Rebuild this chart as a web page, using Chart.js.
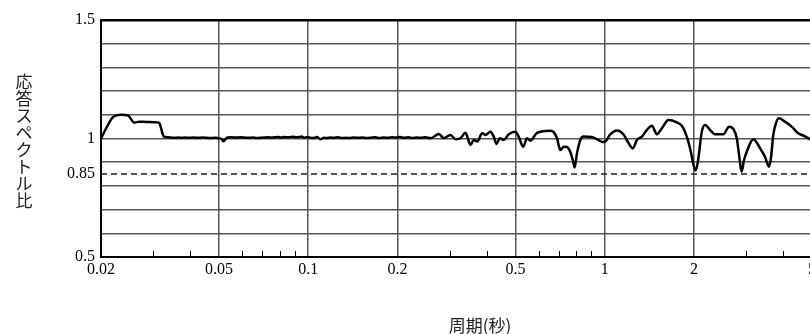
<!DOCTYPE html>
<html>
<head>
<meta charset="utf-8">
<script src="https://cdn.jsdelivr.net/npm/chart.js@4.4.1/dist/chart.umd.min.js"></script>
<style>
  html, body { margin: 0; padding: 0; overflow: hidden; background: #fff; width: 810px; height: 334px; }
  canvas { display: block; }
</style>
</head>
<body>
<canvas id="c" width="812" height="334"></canvas>
<script>
// Response spectrum ratio against period (s)
const periods = [
  0.0200, 0.0211, 0.0219, 0.0234, 0.0246, 0.0259, 0.0269, 0.0286, 0.0311, 0.0315, 0.0326, 0.0336,
  0.0345, 0.0355, 0.0365, 0.0375, 0.0385, 0.0395, 0.0410, 0.0425, 0.0440, 0.0455, 0.0470, 0.0485,
  0.0500, 0.0512, 0.0518, 0.0525, 0.0535, 0.0550, 0.0570, 0.0590, 0.0610, 0.0630, 0.0650, 0.0670,
  0.0690, 0.0710, 0.0730, 0.0750, 0.0770, 0.0790, 0.0810, 0.0830, 0.0850, 0.0870, 0.0890, 0.0910,
  0.0930, 0.0950, 0.0970, 0.0990, 0.1010, 0.1040, 0.1070, 0.1100, 0.1130, 0.1160, 0.1190, 0.1220,
  0.1260, 0.1300, 0.1340, 0.1380, 0.1420, 0.1470, 0.1520, 0.1570, 0.1620, 0.1680, 0.1740, 0.1800,
  0.1860, 0.1920, 0.1980, 0.2040, 0.2110, 0.2180, 0.2250, 0.2320, 0.2400, 0.2480, 0.2585, 0.2757,
  0.2866, 0.3019, 0.3137, 0.3262, 0.3391, 0.3525, 0.3616, 0.3713, 0.3859, 0.3959, 0.4116, 0.4223,
  0.4312, 0.4424, 0.4563, 0.4744, 0.4995, 0.5125, 0.5303, 0.5470, 0.5614, 0.5910, 0.6555, 0.6725,
  0.6903, 0.7081, 0.7265, 0.7459, 0.7652, 0.7804, 0.7913, 0.8061, 0.8270, 0.8486, 0.9055, 0.9508,
  0.9808, 1.0040, 1.0435, 1.0992, 1.1570, 1.2024, 1.2440, 1.2835, 1.3344, 1.3871, 1.4420, 1.4992,
  1.5583, 1.6400, 1.7502, 1.8197, 1.8664, 1.9147, 1.9553, 1.9860, 2.0281, 2.0693, 2.1247, 2.1797,
  2.2660, 2.3560, 2.5120, 2.6265, 2.7157, 2.7880, 2.8385, 2.8930, 2.9490, 3.0117, 3.1696, 3.2621,
  3.3389, 3.4706, 3.5802, 3.6359, 3.7018, 3.7794, 3.8682, 4.0522, 4.2687, 4.4928, 4.6960, 4.9189,
  5.0000
];
const ratios = [
  1.000, 1.057, 1.089, 1.100, 1.098, 1.067, 1.071, 1.070, 1.068, 1.064, 1.008, 1.005,
  1.004, 1.003, 1.004, 1.003, 1.004, 1.003, 1.004, 1.003, 1.004, 1.003, 1.002, 1.003,
  1.001, 0.996, 0.988, 0.996, 1.004, 1.005, 1.004, 1.005, 1.004, 1.003, 1.004, 1.002,
  1.003, 1.004, 1.005, 1.004, 1.005, 1.006, 1.004, 1.006, 1.005, 1.006, 1.007, 1.005,
  1.006, 1.008, 1.003, 1.006, 1.004, 1.002, 1.006, 0.997, 1.003, 1.002, 1.004, 1.003,
  1.005, 1.002, 1.003, 1.002, 1.004, 1.003, 1.004, 1.002, 1.003, 1.005, 1.002, 1.004,
  1.003, 1.005, 1.004, 1.006, 1.003, 1.005, 1.002, 1.004, 1.003, 1.005, 1.001, 1.019,
  1.001, 1.015, 0.997, 1.001, 1.024, 0.973, 0.994, 0.987, 1.022, 1.015, 1.029, 1.008,
  0.977, 1.001, 0.994, 1.018, 1.029, 1.008, 0.965, 1.001, 0.991, 1.024, 1.033, 1.027,
  1.001, 0.951, 0.965, 0.964, 0.943, 0.909, 0.878, 0.938, 0.994, 1.008, 1.006, 0.994,
  0.985, 0.987, 1.017, 1.034, 1.017, 0.981, 0.958, 0.994, 1.008, 1.036, 1.054, 1.018,
  1.043, 1.078, 1.068, 1.054, 1.027, 0.986, 0.939, 0.895, 0.865, 0.916, 1.029, 1.057,
  1.036, 1.018, 1.018, 1.050, 1.040, 1.001, 0.930, 0.860, 0.909, 0.944, 0.997, 0.981,
  0.959, 0.923, 0.881, 0.918, 1.015, 1.065, 1.085, 1.071, 1.050, 1.022, 1.011, 0.998,
  0.996
];
const threshold = 0.85;

const xTickValues = [0.02, 0.03, 0.04, 0.05, 0.06, 0.07, 0.08, 0.09, 0.1, 0.2, 0.3, 0.4,
                     0.5, 0.6, 0.7, 0.8, 0.9, 1, 2, 3, 4, 5];
const xLabelValues = [0.02, 0.05, 0.1, 0.2, 0.5, 1, 2, 5];
const xGridValues = [0.05, 0.1, 0.2, 0.5, 1, 2, 5];
const yTickValues = [0.5, 0.6, 0.7, 0.8, 0.85, 0.9, 1, 1.1, 1.2, 1.3, 1.4, 1.5];
const yLabelValues = [0.5, 0.85, 1, 1.5];
const yTitle = '応答スペクトル比';
const xTitle = '周期(秒)';

const serif = '"Liberation Serif", "Times New Roman", serif';
const cjk = '"Noto Sans CJK JP", sans-serif';
const gridGray = '#555';

// short upward ticks on the bottom axis and the two axis titles
const decorations = {
  id: 'decorations',
  afterDraw(chart) {
    const { ctx, chartArea, scales } = chart;
    const xs = scales.x;
    ctx.save();
    ctx.strokeStyle = '#000';
    ctx.lineWidth = 1;
    xTickValues.forEach(v => {
      if (xGridValues.includes(v) || v === 0.02) return;
      const px = Math.round(xs.getPixelForValue(v)) + 0.5;
      ctx.beginPath();
      ctx.moveTo(px, chartArea.bottom);
      ctx.lineTo(px, chartArea.bottom - 6);
      ctx.stroke();
    });

    ctx.fillStyle = '#222';
    ctx.font = '17px ' + cjk;
    ctx.textAlign = 'center';
    ctx.textBaseline = 'middle';
    const chars = Array.from(yTitle);
    const step = 16.9;
    chars.forEach((ch, i) => ctx.fillText(ch, 24, 82 + i * step));

    ctx.fillText(xTitle, 480, 326);
    ctx.restore();
  }
};

new Chart(document.getElementById('c'), {
  type: 'line',
  data: {
    datasets: [
      {
        data: periods.map((p, i) => ({ x: p, y: ratios[i] })),
        borderColor: '#000',
        borderWidth: 2.5,
        pointRadius: 0,
        cubicInterpolationMode: 'monotone',
        fill: false
      },
      {
        data: [{ x: 0.02, y: threshold }, { x: 5, y: threshold }],
        borderColor: '#222',
        borderWidth: 1.5,
        borderDash: [6, 4],
        pointRadius: 0,
        fill: false
      }
    ]
  },
  options: {
    responsive: false,
    animation: false,
    events: [],
    layout: { padding: { top: 20, left: 0, right: 0, bottom: 0 } },
    plugins: { legend: { display: false }, tooltip: { enabled: false } },
    scales: {
      x: {
        type: 'logarithmic',
        min: 0.02,
        max: 5,
        afterBuildTicks: s => { s.ticks = xTickValues.map(v => ({ value: v })); },
        afterFit: s => { s.height = 77; s.paddingLeft = 0; s.paddingRight = 0; },
        ticks: {
          autoSkip: false,
          maxRotation: 0,
          minRotation: 0,
          padding: 3,
          color: '#000',
          font: { family: serif, size: 16 },
          callback: v => (xLabelValues.includes(v) ? String(v) : '')
        },
        grid: {
          drawTicks: false,
          color: c => (xGridValues.includes(c.tick && c.tick.value) ? gridGray : 'rgba(0,0,0,0)'),
          lineWidth: 1.5
        },
        border: { color: '#000', width: 2 }
      },
      y: {
        type: 'linear',
        min: 0.5,
        max: 1.5,
        afterBuildTicks: s => { s.ticks = yTickValues.map(v => ({ value: v })); },
        afterFit: s => { s.width = 101; s.paddingTop = 0; s.paddingBottom = 0; },
        ticks: {
          autoSkip: false,
          padding: 6,
          color: '#000',
          font: { family: serif, size: 16 },
          callback: v => (yLabelValues.includes(v) ? String(v) : '')
        },
        grid: {
          drawTicks: false,
          color: c => {
            const v = c.tick && c.tick.value;
            if (v === 0.85) return 'rgba(0,0,0,0)';
            return v === 1.5 ? '#000' : gridGray;
          },
          lineWidth: c => (c.tick && c.tick.value === 1.5 ? 2.5 : 1.5)
        },
        border: { color: '#000', width: 2 }
      }
    }
  },
  plugins: [decorations]
});
</script>
</body>
</html>
